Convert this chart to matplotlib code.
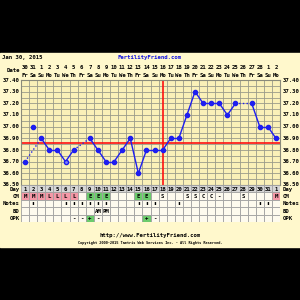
import matplotlib.pyplot as plt
import numpy as np
from matplotlib.patches import Rectangle

# chart data
date_nums = ["30", "31"] + [str(d) for d in range(1, 29)] + ["1", "2"]
weekdays = ["Fr", "Sa", "Su", "Mo", "Tu", "We", "Th"] * 5
weekdays = weekdays[:32]
cycle_days = [str(d) for d in range(1, 32)] + ["1"]
temps = [36.70, 37.00, 36.90, 36.80, 36.80, 36.70, 36.80, np.nan,
         36.90, 36.80, 36.70, 36.70, 36.80, 36.90, 36.60, 36.80,
         36.80, 36.80, 36.90, 36.90, 37.10, 37.30, 37.20, 37.20,
         37.20, 37.10, 37.20, np.nan, 37.20, 37.00, 37.00, 36.90]
excluded = [2]
open_points = [6]
coverline = 36.86
ovulation_day = 18
cm = ["M", "M", "M", "L", "L", "L", "L", "", "E", "E", "E", "", "", "", "E", "E",
      "", "S", "", "", "S", "S", "C", "C", "-", "", "", "S", "", "", "", "M"]
notes = [2, 6, 7, 8, 9, 10, 11, 15, 16, 17, 20, 30, 31]
bd = {10: "AM", 11: "PM"}
opk = {7: "-", 8: "-", 9: "+", 10: "-", 16: "+", 17: "-"}
yticks = [37.40, 37.30, 37.20, 37.10, 37.00, 36.90, 36.80, 36.70, 36.60, 36.50]

n = len(temps)
days = np.arange(1, n + 1)
mono = "DejaVu Sans Mono"
fs = 4.1


def fy(y):
    return 1 - y / 300


fig = plt.figure(figsize=(3, 3), dpi=100)
fig.patch.set_facecolor("black")
fig.add_artist(Rectangle((0, fy(247)), 1, (247 - 53) / 300, transform=fig.transFigure,
                         color="#FFF8CC", zorder=0))

L, W = 21 / 300, 259 / 300
ax = fig.add_axes([L, fy(185), W, (185 - 80) / 300])
ax.set_xlim(0.5, n + 0.5)
ax.set_ylim(36.5, 37.4)
ax.set_facecolor("#FAF0B8")
for s in ax.spines.values():
    s.set_color("#8A8A7A")
    s.set_linewidth(0.8)
ax.set_xticks([])
ax.set_yticks([])
ax.vlines(np.arange(1.5, n), 36.5, 37.4, color="#9A9A8A", lw=0.6, zorder=1)
ax.hlines(np.arange(36.55, 37.4, 0.05), 0.5, n + 0.5, color="#9A9A8A", lw=0.6, zorder=1)

# temperature line
valid = [d for d in days if not np.isnan(temps[d - 1]) and d not in excluded]
for a, b in zip(valid[:-1], valid[1:]):
    ls = "-" if b - a == 1 else ":"
    ax.plot([a, b], [temps[a - 1], temps[b - 1]], color="#1E1EF0", lw=1, ls=ls, zorder=3)
for d in valid:
    face = "#8080F8" if d in open_points else "#1E1EF0"
    ax.plot(d, temps[d - 1], "o", ms=3, color="#1E1EF0", mfc=face, zorder=4)
for d in excluded:
    ax.plot(d, temps[d - 1], "o", ms=3, color="#1E1EF0", zorder=4)

ax.axhline(coverline, color="#FF1010", lw=1.2, zorder=2)
ax.axvline(ovulation_day, color="#FF1010", lw=1.2, zorder=2)

ytr = ax.get_yaxis_transform()
for t in yticks:
    ax.text(-1.5 / 259, t, f"{t:.2f}", transform=ytr, ha="right", va="center",
            fontsize=fs, family=mono, fontweight="bold")
    ax.text(1 + 3 / 259, t, f"{t:.2f}", transform=ytr, ha="left", va="center",
            fontsize=fs, family=mono, fontweight="bold")

# header
tr = ax.get_xaxis_transform()
for d in days:
    ax.text(d, 1 + 13 / 105, date_nums[d - 1], transform=tr, ha="center", va="center",
            fontsize=fs, family=mono, fontweight="bold")
    ax.text(d, 1 + 5 / 105, weekdays[d - 1], transform=tr, ha="center", va="center",
            fontsize=fs, family=mono, fontweight="bold")
fig.text(20 / 300, fy(71), "Date", ha="right", va="center", fontsize=fs, family=mono, fontweight="bold")
fig.text(2 / 300, fy(58), "Jan 30, 2015", ha="left", va="center", fontsize=fs, family=mono, fontweight="bold")
fig.text(0.5, fy(58), "FertilityFriend.com", ha="center", va="center", fontsize=fs,
         family=mono, fontweight="bold", color="#1010E0")

# table
tab = fig.add_axes([L, fy(222), W, 37 / 300])
tab.set_xlim(0.5, n + 0.5)
tab.set_ylim(5, 0)
tab.axis("off")
row_names = ["Day", "CM", "Notes", "BD", "OPK"]
for d in days:
    for r in range(5):
        fc = "#FDFAEE"
        txt = ""
        if r == 0:
            fc = "#D6D6D6"
            txt = cycle_days[d - 1]
        elif r == 1:
            txt = cm[d - 1]
            if txt in ("M", "L"):
                fc = "#F498A6"
            elif txt == "E":
                fc = "#6CCB6C"
        elif r == 2:
            txt = "\u25AE" if d in notes else ""
        elif r == 3:
            txt = bd.get(d, "")
        else:
            txt = opk.get(d, "")
            if txt == "+":
                fc = "#6CCB6C"
        tab.add_patch(Rectangle((d - 0.5, r), 1, 1, facecolor=fc, edgecolor="#A0A0A0", lw=0.6))
        if txt:
            tab.text(d, r + 0.55, txt, ha="center", va="center", fontsize=fs if r != 2 else 3.5,
                     family=mono, fontweight="bold")
ttr = tab.get_yaxis_transform()
for r, name in enumerate(row_names):
    tab.text(-1.5 / 259, r + 0.55, name, transform=ttr, ha="right", va="center",
             fontsize=fs, family=mono, fontweight="bold")
    tab.text(1 + 3 / 259, r + 0.55, name, transform=ttr, ha="left", va="center",
             fontsize=fs, family=mono, fontweight="bold")

fig.text(0.5, fy(236), "http://www.FertilityFriend.com", ha="center", va="center",
         fontsize=fs, family=mono, fontweight="bold")
fig.text(0.5, fy(243), "Copyright 2000-2015 Tamtris Web Services Inc. - All Rights Reserved.",
         ha="center", va="center", fontsize=2.6, family=mono, fontweight="bold")

fig.savefig("out.png", dpi=100, facecolor=fig.get_facecolor())
